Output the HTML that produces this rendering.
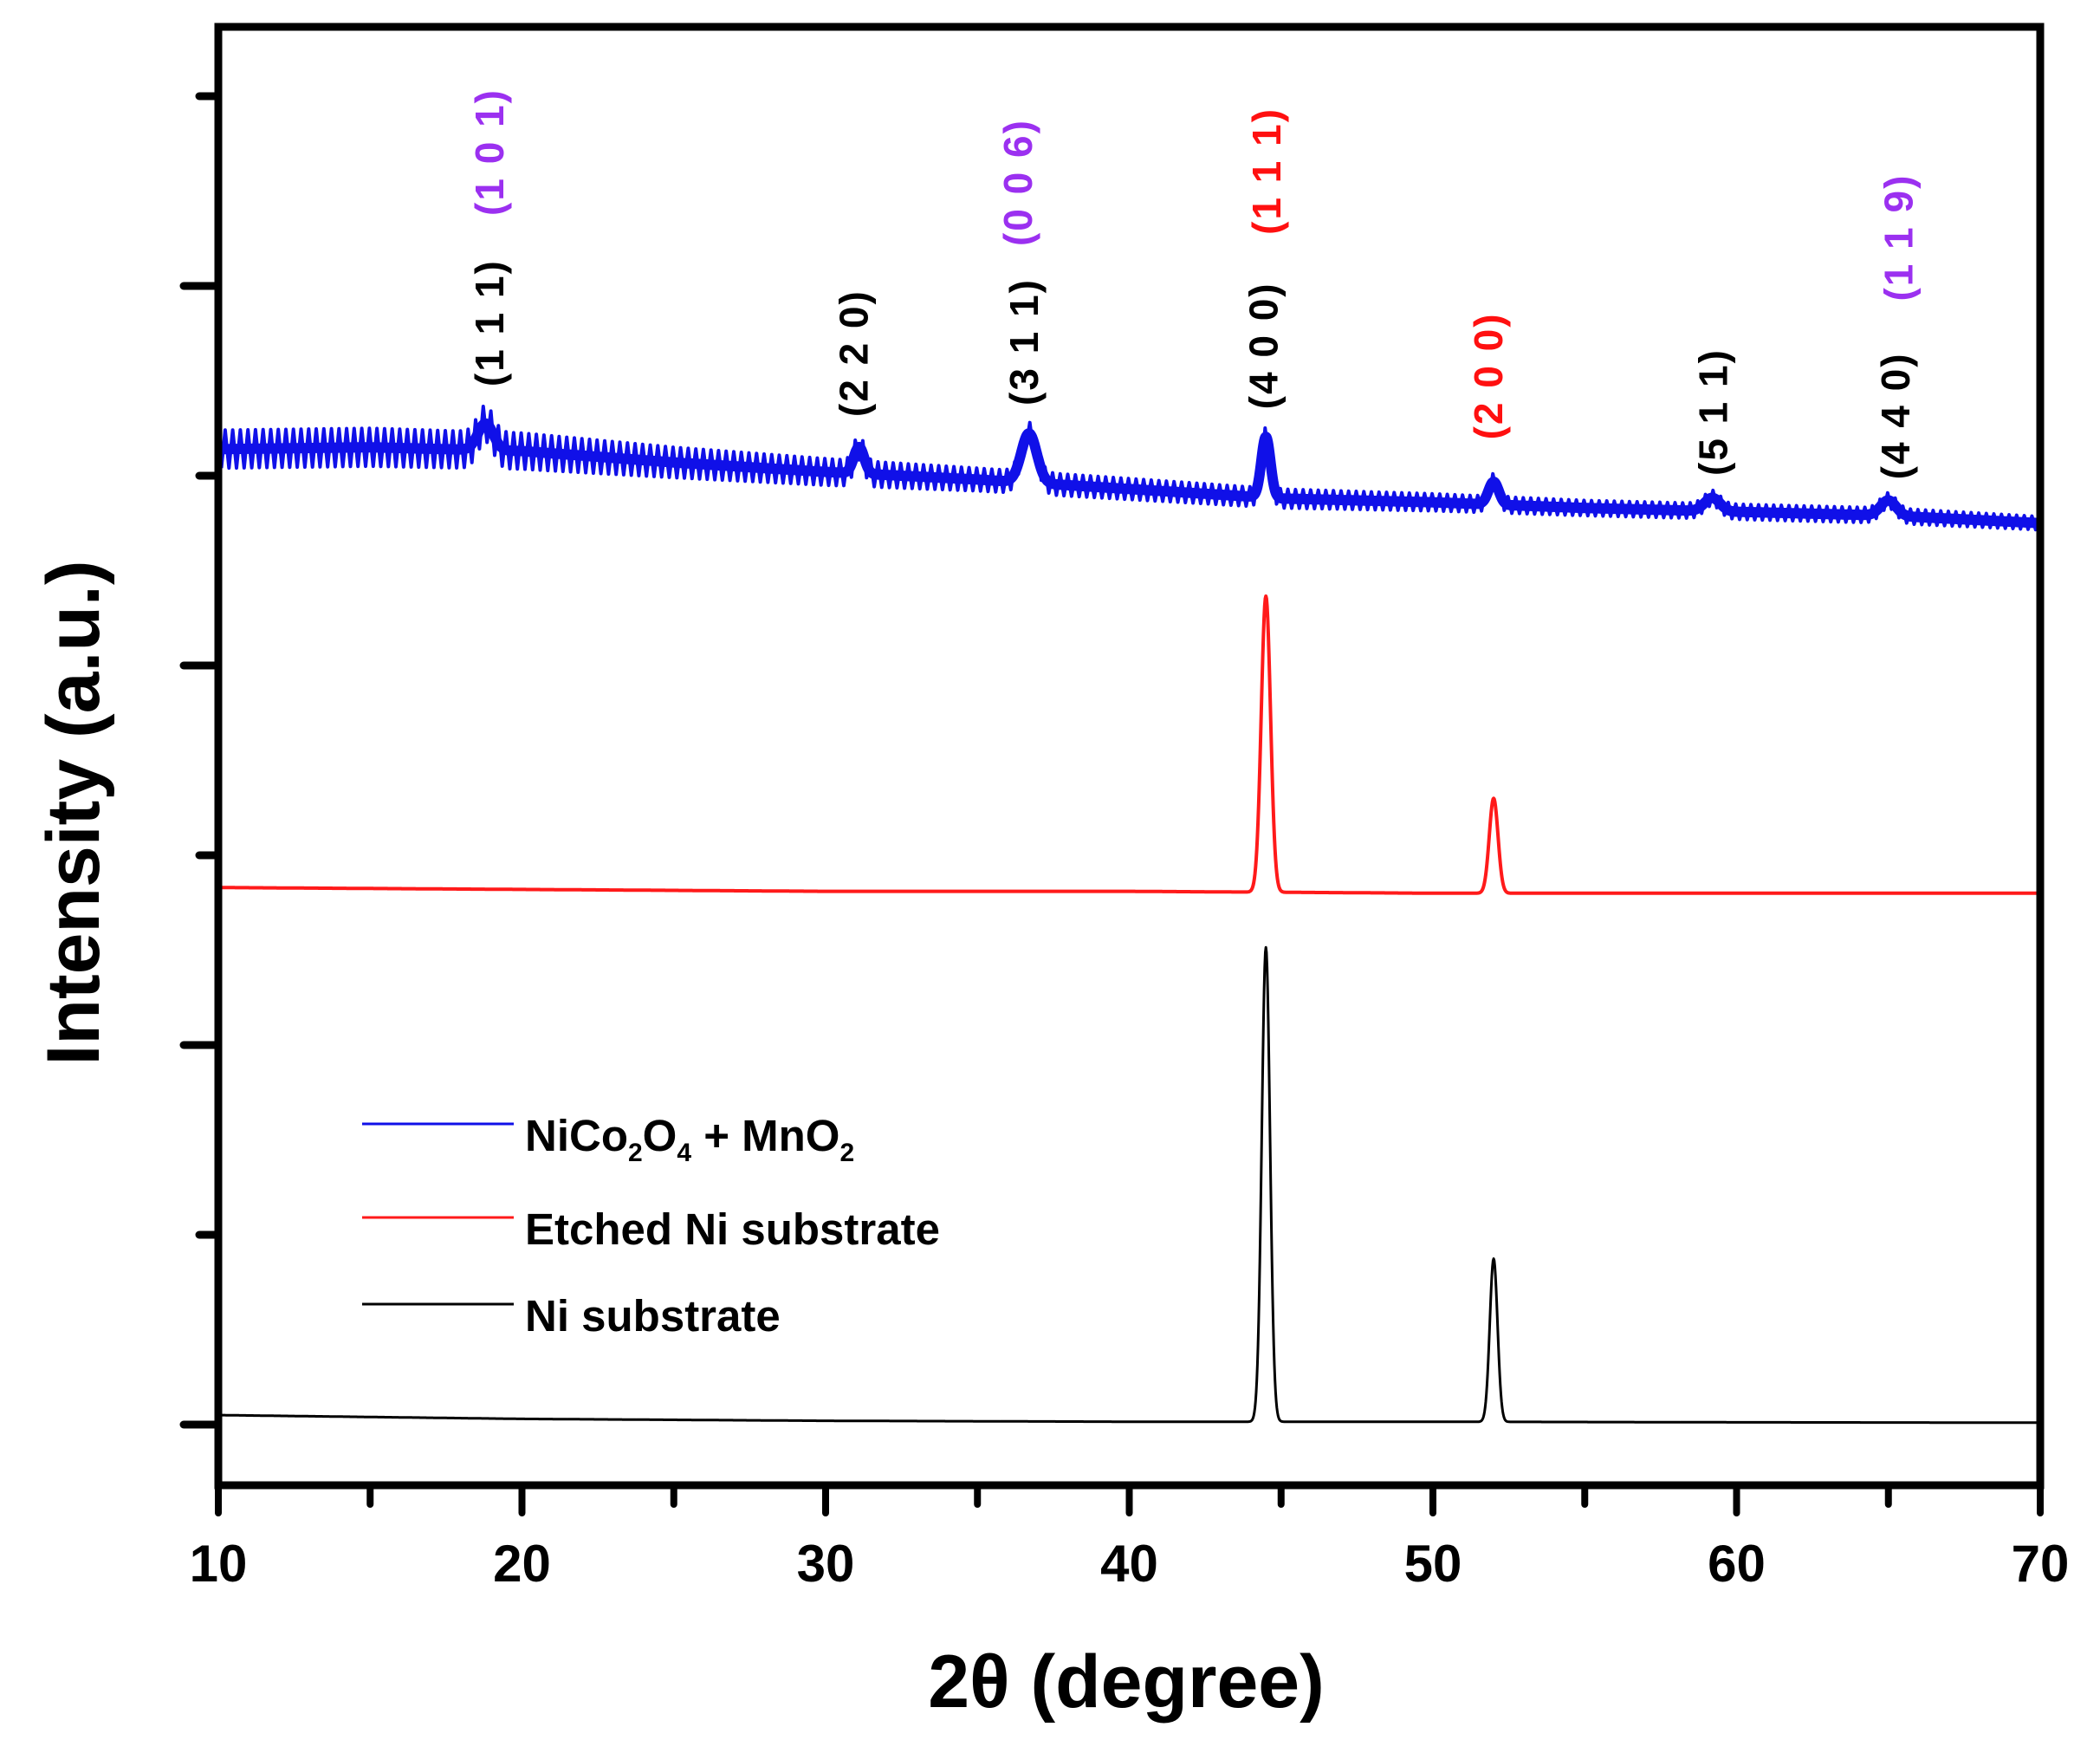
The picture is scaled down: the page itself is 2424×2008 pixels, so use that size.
<!DOCTYPE html>
<html>
<head>
<meta charset="utf-8">
<style>
html,body{margin:0;padding:0;background:#fff;}
svg{display:block;}
text{font-family:"Liberation Sans",Arial,sans-serif;font-weight:bold;}
</style>
</head>
<body>
<svg id="chart" width="2424" height="2008" viewBox="0 0 2424 2008" xmlns="http://www.w3.org/2000/svg">
  <g id="series"></g>
  <g id="axes"></g>
  <g id="labels"></g>
  <g id="legend"></g>
</svg>
<script>
// ---- data ----
const xTicks = [10, 20, 30, 40, 50, 60, 70];
const xTickLabels = ["10", "20", "30", "40", "50", "60", "70"];
const yTicks = [0, 1, 2, 3, 4, 5, 6, 7];

// Ni substrate (black)
const blackBaseX = [10, 20, 30, 40, 50, 60, 70];
const blackBaseY = [0.05, 0.03, 0.02, 0.015, 0.015, 0.012, 0.01];
const blackPeakPos = [44.5, 52.0];
const blackPeakHeight = [2.5, 0.86];
const blackPeakFwhm = [0.32, 0.3];

// Etched Ni substrate (red)
const redBaseX = [10, 20, 30, 40, 50, 60, 70];
const redBaseY = [2.83, 2.82, 2.81, 2.81, 2.8, 2.8, 2.8];
const redPeakPos = [44.5, 52.0];
const redPeakHeight = [1.56, 0.5];
const redPeakFwhm = [0.36, 0.34];

// NiCo2O4 + MnO2 (blue)
const blueBaseX = [10, 15, 20, 25, 30, 35, 40, 45, 50, 55, 60, 65, 70];
const blueBaseY = [5.14, 5.15, 5.13, 5.07, 5.02, 4.98, 4.93, 4.88, 4.86, 4.83, 4.81, 4.79, 4.75];
const bluePeakPos = [18.8, 31.1, 36.7, 44.5, 52.0, 59.2, 65.0];
const bluePeakHeight = [0.14, 0.14, 0.26, 0.32, 0.12, 0.07, 0.08];
const bluePeakFwhm = [0.6, 0.4, 0.6, 0.35, 0.4, 0.6, 0.6];
const blueRippleAmp = [0.1, 0.1, 0.095, 0.08, 0.07, 0.06, 0.055, 0.05, 0.045, 0.04, 0.04, 0.04, 0.035];

const peakLabelText = ["(1 1 1)", "(1 0 1)", "(2 2 0)", "(3 1 1)", "(0 0 6)", "(4 0 0)", "(1 1 1)", "(2 0 0)", "(5 1 1)", "(4 4 0)", "(1 1 9)"];
const peakLabelX = [18.7, 18.7, 30.7, 36.3, 36.1, 44.2, 44.3, 51.6, 59.0, 65.0, 65.1];
const peakLabelY = [5.47, 6.37, 5.31, 5.37, 6.21, 5.35, 6.27, 5.19, 5.0, 4.98, 5.92];
const peakLabelColor = ["#000", "#9b30f0", "#000", "#000", "#9b30f0", "#000", "#ff1010", "#ff1010", "#000", "#000", "#9b30f0"];

const legendNames = ["NiCo2O4 + MnO2", "Etched Ni substrate", "Ni substrate"];
const legendColors = ["#1010e8", "#ff1a1a", "#000"];

// ---- scales ----
const L = 252, R = 2355, T = 31, B = 1714;
function X(v){ return L + (v - 10) * (R - L) / 60; }
function Y(u){ return 1644 - u * 219; }
const NS = "http://www.w3.org/2000/svg";
function mk(tag, attrs, parent){
  const e = document.createElementNS(NS, tag);
  for (const k in attrs) e.setAttribute(k, attrs[k]);
  parent.appendChild(e);
  return e;
}
function interp(xs, ys, x){
  if (x <= xs[0]) return ys[0];
  for (let i = 1; i < xs.length; i++) if (x <= xs[i]) {
    const t = (x - xs[i-1]) / (xs[i] - xs[i-1]);
    return ys[i-1] + t * (ys[i] - ys[i-1]);
  }
  return ys[ys.length - 1];
}
function curve(bx, by, pp, ph, pw, x){
  let y = interp(bx, by, x);
  for (let i = 0; i < pp.length; i++) {
    const s = pw[i] / 2.3548;
    y += ph[i] * Math.exp(-0.5 * Math.pow((x - pp[i]) / s, 2));
  }
  return y;
}
const series = document.getElementById('series');
function drawSeries(bx, by, pp, ph, pw, color, sw, name, ripple){
  let d = "";
  const step = ripple ? 0.125 : 0.02;
  let k = 0;
  for (let x = 10.1; x <= 70; x += step, k++) {
    let y = curve(bx, by, pp, ph, pw, x);
    if (ripple) y += (k % 2 ? 1 : -1) * interp(bx, ripple, x);
    d += (d ? "L" : "M") + X(x).toFixed(1) + " " + Y(y).toFixed(1);
  }
  const p = mk('path', {d: d, fill: 'none', stroke: color, 'stroke-width': sw, 'stroke-linejoin': 'round'}, series);
  
  
}
drawSeries(blackBaseX, blackBaseY, blackPeakPos, blackPeakHeight, blackPeakFwhm, '#000', 3, 'ni-substrate-line', null);
drawSeries(redBaseX, redBaseY, redPeakPos, redPeakHeight, redPeakFwhm, '#ff1a1a', 4, 'etched-ni-line', null);
drawSeries(blueBaseX, blueBaseY, bluePeakPos, bluePeakHeight, bluePeakFwhm, '#1010e8', 4, 'nico2o4-mno2-line', blueRippleAmp);
drawSeries(blueBaseX, blueBaseY, bluePeakPos, bluePeakHeight, bluePeakFwhm, '#1010e8', 12, 'nico2o4-mno2-core', null);

// ---- axes ----
const axes = document.getElementById('axes');
const frame = mk('rect', {x: L, y: T, width: R - L, height: B - T, fill: 'none', stroke: '#000', 'stroke-width': 9}, axes);


for (const t of yTicks) {
  const len = t % 2 === 0 ? 40 : 22;
  const ln = mk('line', {x1: L, x2: L - len, y1: Y(t), y2: Y(t), stroke: '#000', 'stroke-width': 9, 'stroke-linecap': 'round'}, axes);
  
  
}
for (let v = 10; v <= 70; v += 5) {
  const len = v % 10 === 0 ? 32 : 22;
  const ln = mk('line', {x1: X(v), x2: X(v), y1: B, y2: B + len, stroke: '#000', 'stroke-width': 8, 'stroke-linecap': 'round'}, axes);
  
  
}
xTicks.forEach((v, i) => {
  const t = mk('text', {x: X(v), y: 1825, 'font-size': 60, 'text-anchor': 'middle'}, axes);
  t.textContent = xTickLabels[i];
  
  
});
const xt = mk('text', {x: 1300, y: 1970, 'font-size': 86, 'text-anchor': 'middle'}, axes);
xt.textContent = "2θ (degree)";


const yt = mk('text', {x: 0, y: 0, 'font-size': 86, 'text-anchor': 'middle', transform: 'translate(114 938) rotate(-90)'}, axes);
yt.textContent = "Intensity (a.u.)";



// ---- peak labels ----
const labels = document.getElementById('labels');
peakLabelText.forEach((s, i) => {
  const x = X(peakLabelX[i]) + 24, y = Y(peakLabelY[i]);
  const t = mk('text', {x: 0, y: 0, 'font-size': 46, fill: peakLabelColor[i], 'text-anchor': 'start', 'letter-spacing': 2, transform: 'translate(' + x + ' ' + y + ') rotate(-90)'}, labels);
  t.textContent = s;
  
  
});

// ---- legend ----
const legend = document.getElementById('legend');
const legY = [1297, 1405, 1505];
legendNames.forEach((n, i) => {
  const g = mk('g', {}, legend);
  
  
  mk('line', {x1: 418, x2: 593, y1: legY[i], y2: legY[i], stroke: legendColors[i], 'stroke-width': 3}, g);
  const t = mk('text', {x: 606, y: legY[i] + 31, 'font-size': 51}, g);
  if (i === 0) {
    t.innerHTML = 'NiCo<tspan font-size="30" dy="12">2</tspan><tspan dy="-12">O</tspan><tspan font-size="30" dy="12">4</tspan><tspan dy="-12"> + MnO</tspan><tspan font-size="30" dy="12">2</tspan>';
  } else {
    t.textContent = n;
  }
});
</script>
</body>
</html>
